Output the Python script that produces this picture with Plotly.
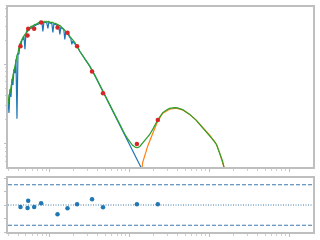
import plotly.graph_objects as go

# ---- observed spectrum (blue) ----
spec_x = [0.02985, 0.03073, 0.03162, 0.03255, 0.03350, 0.03448, 0.03548, 0.03652, 0.03758, 0.03868,
          0.03981, 0.04097, 0.04217, 0.04340, 0.04467, 0.04597, 0.04732, 0.04870, 0.05012, 0.05158,
          0.05309, 0.05464, 0.05623, 0.05788, 0.05957, 0.06131, 0.06310, 0.06494, 0.06683, 0.06879,
          0.07079, 0.07286, 0.07499, 0.07718, 0.07943, 0.08175, 0.08414, 0.08660, 0.08913, 0.09173,
          0.09441, 0.09716, 0.1000, 0.1029, 0.1059, 0.1090, 0.1122, 0.1155, 0.1189, 0.1223,
          0.1259, 0.1296, 0.1334, 0.1373, 0.1413, 0.1454, 0.1496, 0.1540, 0.1585, 0.1631,
          0.1679, 0.1728, 0.1778, 0.1830, 0.1884, 0.1939, 0.1995, 0.2054, 0.2113, 0.2175,
          0.2239, 0.2371, 0.2738, 0.3162, 0.3652, 0.4217, 0.4870, 0.5623, 0.6494, 0.7499,
          0.8660, 1.000, 1.155, 1.334, 1.585]
spec_y = [3.448, 2.441, 4.870, 3.868, 6.494, 5.464, 8.660, 7.718, 11.55, 2.054,
          13.73, 13.34, 18.30, 17.28, 20.54, 20.54, 22.39, 15.40, 24.41, 25.12,
          25.85, 27.38, 27.38, 29.01, 28.18, 29.85, 29.85, 30.73, 30.73, 31.62,
          31.62, 32.55, 32.55, 33.50, 33.50, 25.85, 33.50, 33.50, 33.50, 32.55,
          28.18, 33.50, 32.55, 32.55, 32.55, 25.12, 31.62, 31.62, 31.62, 30.73,
          30.73, 29.85, 23.71, 29.01, 28.18, 27.38, 27.38, 20.54, 25.85, 25.12,
          23.71, 23.04, 21.75, 21.14, 17.78, 19.39, 18.84, 18.30, 17.28, 16.79,
          16.31, 14.54, 11.89, 9.441, 7.286, 5.464, 4.097, 3.073, 2.304, 1.728,
          1.296, 0.9716, 0.7286, 0.5464, 0.3868]

# ---- dust component (orange) ----
dust_x = [1.334, 1.464, 1.694, 1.956, 2.258, 2.608, 3.162, 3.835, 4.637, 5.623,
          6.820, 8.246, 10.00, 11.55, 12.34, 13.34, 14.66, 15.27, 16.31]
dust_y = [0.2985, 0.5885, 0.9441, 1.385, 1.939, 2.420, 2.715, 2.797, 2.661, 2.352,
          1.978, 1.599, 1.296, 1.068, 0.9716, 0.785, 0.601, 0.506, 0.4097]

# ---- total model (green) ----
tot_x = [0.02985, 0.03073, 0.03162, 0.03255, 0.03350, 0.03448, 0.03548, 0.03652, 0.03758, 0.03868,
         0.03981, 0.04097, 0.04217, 0.04340, 0.04467, 0.04597, 0.04732, 0.04870, 0.05012, 0.05158,
         0.05309, 0.05464, 0.05623, 0.05788, 0.05957, 0.06131, 0.06310, 0.06494, 0.06683, 0.06879,
         0.07079, 0.07286, 0.07499, 0.07718, 0.07943, 0.08175, 0.08414, 0.08660, 0.08913, 0.09173,
         0.09441, 0.09716, 0.1000, 0.1029, 0.1059, 0.1090, 0.1122, 0.1155, 0.1189, 0.1223,
         0.1259, 0.1296, 0.1334, 0.1373, 0.1413, 0.1454, 0.1496, 0.1540, 0.1585, 0.1631,
         0.1679, 0.1728, 0.1778, 0.1830, 0.1884, 0.1939, 0.1995, 0.2054, 0.2113, 0.2175,
         0.2239, 0.2371, 0.2738, 0.3162, 0.3652, 0.4217, 0.4870, 0.5623, 0.6494, 0.7499,
         0.8660, 0.9441, 1.000, 1.090, 1.189, 1.259, 1.334, 1.454, 1.617, 1.778,
         1.956, 2.113, 2.258, 2.441, 2.608, 2.901, 3.162, 3.652, 3.981, 4.597,
         5.623, 6.820, 8.246, 10.00, 11.55, 12.34, 13.34, 14.66, 15.27, 16.31]
tot_y = [3.073, 4.097, 4.340, 5.464, 5.788, 7.286, 8.175, 10.29, 10.90, 12.96,
         13.73, 16.31, 17.28, 19.39, 19.95, 21.75, 23.04, 23.71, 24.41, 26.61,
         26.61, 28.18, 28.18, 29.85, 29.85, 30.73, 30.73, 31.62, 31.62, 32.55,
         32.55, 33.50, 33.50, 34.48, 33.50, 34.48, 33.50, 34.48, 33.50, 34.48,
         33.50, 34.48, 33.50, 33.50, 33.50, 33.50, 32.55, 32.55, 32.55, 31.62,
         31.62, 30.73, 30.73, 29.85, 29.01, 28.18, 28.18, 27.38, 26.61, 25.85,
         24.41, 23.71, 22.39, 21.75, 20.54, 19.95, 19.39, 18.84, 17.78, 17.28,
         16.31, 14.54, 11.89, 9.441, 7.286, 5.464, 4.097, 3.073, 2.304, 1.74,
         1.334, 1.155, 1.059, 0.956, 0.899, 0.895, 0.917, 1.015, 1.145, 1.296,
         1.527, 1.778, 1.995, 2.239, 2.462, 2.661, 2.778, 2.843, 2.818, 2.684,
         2.352, 1.978, 1.599, 1.296, 1.068, 0.9716, 0.785, 0.601, 0.506, 0.4097]

# ---- photometry (red) and residuals ----
phot_x = [0.0428, 0.0525, 0.0535, 0.0636, 0.0777, 0.1247, 0.1664, 0.2195, 0.338, 0.464, 1.234, 2.258]
phot_y = [16.8, 23.0, 27.9, 27.9, 33.5, 29.0, 24.8, 16.8, 8.11, 4.30, 0.99, 1.98]
resid = [-0.29, -0.44, 0.63, -0.29, 0.25, -1.37, -0.49, 0.10, 0.84, -0.34, 0.10, 0.10]

C0, C1, C2, C3 = "#1f77b4", "#ff7f0e", "#2ca02c", "#d62728"
SPINE = "#bfbfbf"

fig = go.Figure()
fig.add_trace(go.Scatter(x=spec_x, y=spec_y, mode="lines", line=dict(color=C0, width=1.2),
                         xaxis="x", yaxis="y", showlegend=False))
fig.add_trace(go.Scatter(x=dust_x, y=dust_y, mode="lines", line=dict(color=C1, width=1.2),
                         xaxis="x", yaxis="y", showlegend=False))
fig.add_trace(go.Scatter(x=tot_x, y=tot_y, mode="lines", line=dict(color=C2, width=1.2),
                         xaxis="x", yaxis="y", showlegend=False))
fig.add_trace(go.Scatter(x=phot_x, y=phot_y, mode="markers", marker=dict(color=C3, size=4.5),
                         xaxis="x", yaxis="y", showlegend=False))
fig.add_trace(go.Scatter(x=phot_x, y=resid, mode="markers", marker=dict(color=C0, size=4.5),
                         xaxis="x2", yaxis="y2", showlegend=False))

for yv, dash in [(3, "4px,2px"), (-3, "4px,2px"), (0, "1px,1.5px")]:
    fig.add_shape(type="line", xref="x2 domain", yref="y2", x0=0, x1=1, y0=yv, y1=yv,
                  line=dict(color="#3b78ad", width=1, dash=dash))

axis_common = dict(showline=True, mirror=True, linecolor=SPINE, linewidth=2,
                   ticks="outside", ticklen=2.5, tickcolor=SPINE, tickwidth=1,
                   showticklabels=False, showgrid=False, zeroline=False)
minor = dict(ticks="outside", ticklen=1.5, tickcolor="#d0d0d0", showgrid=False)

fig.update_layout(
    width=320, height=240,
    margin=dict(l=8, r=6, t=5, b=8),
    paper_bgcolor="white", plot_bgcolor="white",
    xaxis=dict(type="log", range=[-1.525, 2.3], domain=[0, 1], anchor="y", dtick=1,
               minor=minor, **axis_common),
    yaxis=dict(type="log", range=[-0.294, 1.719], domain=[0.2885, 1], anchor="x", dtick=1,
               minor=minor, **axis_common),
    xaxis2=dict(type="log", range=[-1.525, 2.3], domain=[0, 1], anchor="y2", dtick=1,
                matches="x", minor=minor, **axis_common),
    yaxis2=dict(range=[-4, 4], domain=[0, 0.240], anchor="x2", dtick=2, **axis_common),
)

fig.write_html("out.html")
